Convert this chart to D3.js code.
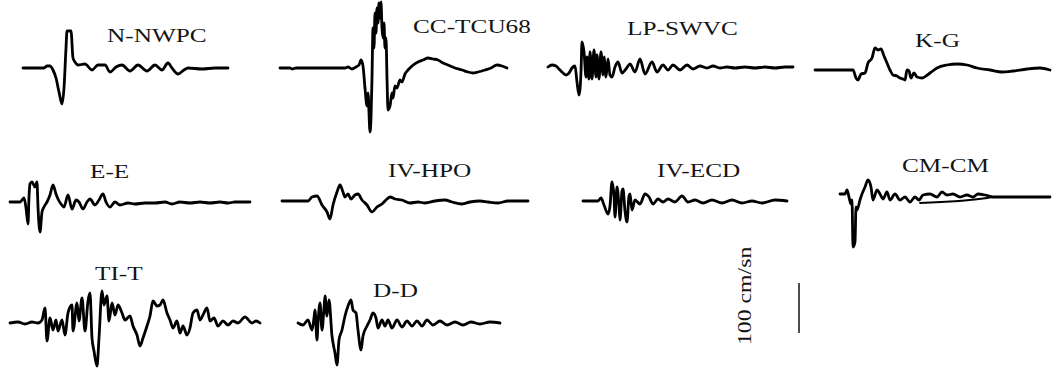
<!DOCTYPE html>
<html>
<head>
<meta charset="utf-8">
<script src="https://cdn.jsdelivr.net/npm/d3@7"></script>
<style>
  html, body { margin: 0; padding: 0; background: #fff; }
  svg { display: block; }
</style>
</head>
<body>
<script>
// Station names, in drawing order
const stations = ["N-NWPC", "CC-TCU68", "LP-SWVC", "K-G", "E-E", "IV-HPO", "IV-ECD", "CM-CM", "TI-T", "D-D"];

// Velocity records: [time (s), velocity (cm/s)]
const velNNWPC = [[0,0],[2.1,0],[2.4,4],[2.7,4],[3.0,-4],[3.3,-20],[3.6,-48],[3.9,-72],[4.1,-40],[4.3,40],[4.4,74],[4.8,74],[5.0,20],[5.2,12],[5.5,6],[6.2,8],[6.9,-4],[7.5,6],[8.2,6],[8.7,-8],[9.3,2],[9.9,6],[10.7,-6],[11.5,6],[12.4,-6],[13.2,6],[13.9,-4],[14.5,10],[14.9,0],[15.5,-12],[16.1,-4],[16.5,0],[17.9,-2],[19.2,0],[20.5,0]];
const velCCTCU68 = [[0,0],[1.0,0],[1.2,-2],[1.6,0],[6.5,0],[6.8,2],[7.2,-2],[7.6,2],[7.9,6],[8.1,16],[8.3,4],[8.5,-40],[8.7,-76],[8.8,-50],[9.0,-128],[9.1,-100],[9.2,-20],[9.3,80],[9.4,40],[9.5,110],[9.6,70],[9.7,120],[9.8,90],[9.9,130],[10.0,100],[10.1,132],[10.2,80],[10.3,60],[10.4,90],[10.5,40],[10.6,60],[10.7,-20],[10.8,-84],[11.0,-76],[11.2,-50],[11.3,-60],[11.5,-36],[11.7,-40],[12.0,-24],[12.2,-28],[12.5,-12],[12.8,-4],[13.2,4],[13.8,12],[14.3,16],[14.8,20],[15.3,18],[15.8,16],[16.3,10],[16.8,6],[17.5,0],[18.2,-4],[18.8,-8],[19.3,-10],[19.8,-8],[20.5,-4],[21.1,0],[21.7,6],[22.2,4],[22.7,0]];
const velLPSWVC = [[0,0],[0.4,4],[0.8,2],[1.1,-4],[1.4,-10],[1.8,-16],[2.1,-12],[2.4,-2],[2.7,2],[2.9,-30],[3.1,-56],[3.3,-10],[3.4,50],[3.6,30],[3.8,-20],[3.9,20],[4.1,-24],[4.2,30],[4.4,-24],[4.6,34],[4.8,-20],[4.9,24],[5.1,-24],[5.3,30],[5.5,-16],[5.6,20],[5.8,-20],[6.0,16],[6.2,-16],[6.4,-20],[6.7,0],[7.0,10],[7.4,-12],[7.8,-4],[8.2,6],[8.7,-10],[9.2,16],[9.7,-14],[10.4,10],[10.9,-10],[11.5,4],[12.0,-6],[12.5,4],[13.2,-6],[13.9,4],[14.5,-4],[15.2,2],[15.9,-2],[16.5,2],[17.2,-2],[17.9,0],[18.7,-2],[19.7,0],[20.7,-2],[21.7,0],[22.7,-2],[23.7,0],[24.5,0]];
const velKG = [[0,0],[1.5,0],[3.0,0],[3.8,0],[4.1,-16],[4.3,-20],[4.6,-8],[5.0,-6],[5.3,14],[5.7,24],[6.0,44],[6.3,40],[6.6,42],[6.9,28],[7.2,14],[7.5,0],[7.8,-10],[8.2,-12],[8.5,-16],[8.8,-18],[9.0,-20],[9.2,0],[9.4,-2],[9.6,-16],[9.9,-6],[10.2,-14],[10.7,-16],[11.1,-12],[11.5,-6],[12.2,4],[13.2,10],[14.2,12],[15.2,10],[16.2,4],[17.5,0],[18.7,-4],[19.8,-2],[21.2,2],[22.5,4],[23.5,0]];
const velEE = [[0,0],[1.0,0],[1.4,8],[1.6,-12],[1.8,-44],[1.9,10],[2.0,36],[2.2,40],[2.5,30],[2.7,40],[2.8,-10],[3.0,-60],[3.2,-20],[3.4,-10],[3.7,0],[4.0,14],[4.3,34],[4.6,16],[4.8,6],[5.1,-4],[5.4,-10],[5.8,14],[6.2,-14],[6.6,4],[6.9,0],[7.3,-14],[7.7,0],[8.0,6],[8.5,-6],[8.9,4],[9.3,16],[9.6,0],[10.0,-10],[10.5,0],[11.0,-6],[11.8,-2],[12.5,-4],[13.5,-2],[14.5,-2],[15.5,0],[16.2,-4],[17.0,0],[18.0,-2],[19.0,0],[20.0,-2],[21.0,0],[21.8,-2],[22.5,0],[24.0,0]];
const velIVHPO = [[0,0],[1.8,0],[2.6,0],[3.0,8],[3.5,10],[4.0,-8],[4.5,-22],[4.8,-36],[5.1,-8],[5.5,18],[5.8,32],[6.1,18],[6.3,8],[6.6,14],[6.9,4],[7.3,12],[7.6,14],[8.0,2],[8.5,-8],[9.0,-22],[9.5,-12],[10.0,-6],[10.5,4],[10.8,8],[11.3,4],[12.0,2],[12.8,-4],[13.6,-2],[14.3,-4],[15.3,0],[16.3,2],[17.0,-2],[18.0,-6],[18.8,-2],[19.8,0],[20.6,-2],[21.6,-4],[22.6,0],[24.6,0]];
const velIVECD = [[0,0],[1.5,0],[1.8,6],[2.1,-8],[2.5,-26],[2.7,-10],[2.9,38],[3.1,10],[3.2,-32],[3.4,28],[3.6,-10],[3.7,-38],[3.9,20],[4.0,24],[4.2,-20],[4.4,-42],[4.6,10],[4.7,14],[4.9,-18],[5.2,2],[5.7,-6],[6.2,14],[6.6,8],[7.0,-6],[7.5,4],[8.0,-2],[8.5,4],[9.2,-2],[9.9,10],[10.5,-2],[11.2,2],[12.0,-4],[12.9,2],[13.9,-4],[14.9,2],[15.9,-4],[16.9,0],[17.9,-4],[19.2,2],[20.4,0]];
const velCMCM = [[0,6],[0.5,6],[0.7,14],[0.9,0],[1.1,-14],[1.2,-6],[1.3,-100],[1.5,-90],[1.6,-20],[1.7,-26],[2.0,-6],[2.2,6],[2.5,20],[2.8,34],[3.1,20],[3.3,-6],[3.7,14],[4.0,6],[4.3,-4],[4.7,10],[5.0,-6],[5.5,6],[6.0,-6],[6.5,0],[7.0,-10],[7.5,0],[7.9,-6],[8.3,4],[9.0,6],[9.7,0],[10.2,10],[10.7,4],[11.3,6],[12.0,0],[12.7,4],[13.3,0],[13.8,6],[14.5,4],[15.3,0],[21.0,0]];
// baseline drift trace drawn under the CM-CM coda
const driftCMCM = [[8.0,-12],[14.7,-2],[15.3,0]];
const velTIT = [[0,0],[0.8,2],[1.5,-2],[2.2,2],[2.8,0],[3.2,6],[3.5,30],[3.7,-36],[4.0,10],[4.3,-14],[4.6,6],[4.8,-16],[5.2,6],[5.5,-24],[5.8,20],[6.2,36],[6.3,-16],[6.7,40],[6.9,4],[7.2,50],[7.5,-16],[7.8,44],[8.0,60],[8.2,-30],[8.4,-56],[8.7,-86],[8.9,-30],[9.2,64],[9.4,36],[9.7,54],[9.9,4],[10.2,40],[10.5,16],[10.8,36],[11.2,20],[11.5,6],[12.0,14],[12.3,-6],[12.7,-24],[13.0,-46],[13.3,-30],[13.7,-6],[14.0,14],[14.3,44],[14.7,34],[15.0,36],[15.3,46],[15.7,20],[16.0,6],[16.3,-10],[16.7,4],[17.0,-20],[17.3,-6],[17.7,-24],[18.0,-10],[18.3,20],[18.7,26],[19.0,6],[19.3,16],[19.7,30],[20.0,4],[20.4,10],[20.8,-6],[21.3,4],[21.8,-4],[22.3,4],[22.8,0],[23.5,12],[24.2,0],[24.6,4],[25.0,0]];
const velDD = [[0,0],[0.5,-4],[1.0,6],[1.4,-14],[1.6,10],[1.7,26],[1.9,-34],[2.0,0],[2.2,40],[2.4,-14],[2.6,30],[2.7,54],[2.9,14],[3.1,46],[3.4,-26],[3.7,-60],[3.9,-84],[4.1,-34],[4.4,-14],[4.7,14],[5.0,34],[5.3,46],[5.5,26],[5.8,20],[6.0,-14],[6.3,-54],[6.5,-26],[6.9,-6],[7.2,6],[7.5,20],[7.8,10],[8.0,-10],[8.4,6],[8.7,-6],[9.0,6],[9.4,-10],[9.9,6],[10.4,-8],[10.9,4],[11.4,-6],[11.9,4],[12.4,-6],[12.9,6],[13.5,-4],[14.2,4],[14.9,-4],[15.7,2],[16.5,-4],[17.3,2],[18.2,-2],[19.2,2],[20.2,0]];

const records = [velNNWPC, velCCTCU68, velLPSWVC, velKG, velEE, velIVHPO, velIVECD, velCMCM, velTIT, velDD];

// Scale bar value (cm/s) and its caption
const scaleValue = 100;
const scaleLabel = "100 cm/sn";

// Page layout: record origin (ox, baseline) and label anchor (lx, ly)
const layout = [
  { ox: 23,  base: 68,  lx: 107, ly: 42 },
  { ox: 280, base: 68,  lx: 413, ly: 33 },
  { ox: 548, base: 67,  lx: 627, ly: 35 },
  { ox: 815, base: 70,  lx: 915, ly: 47 },
  { ox: 10,  base: 202, lx: 90,  ly: 178 },
  { ox: 282, base: 201, lx: 388, ly: 177 },
  { ox: 583, base: 201, lx: 657, ly: 177 },
  { ox: 840, base: 197, lx: 902, ly: 172 },
  { ox: 10,  base: 323, lx: 95,  ly: 280 },
  { ox: 298, base: 323, lx: 373, ly: 297 }
];

const W = 1056, H = 372;
const PX_PER_S = 10;      // horizontal time scale
const PX_PER_100 = 50;    // vertical: 100 cm/s -> 50 px
const STRETCH = 1.33;     // labels are set horizontally widened

const svg = d3.select("body").append("svg")
  .attr("width", W).attr("height", H)
  .attr("viewBox", `0 0 ${W} ${H}`);

const traceG = svg.append("g")
  .attr("fill", "none")
  .attr("stroke", "#000")
  .attr("stroke-width", 2.8)
  .attr("stroke-linejoin", "round")
  .attr("stroke-linecap", "round");

const labelG = svg.append("g")
  .attr("font-family", "'Liberation Serif', 'Times New Roman', serif")
  .attr("font-size", 19)
  .attr("fill", "#141414");

function scalesFor(p, rec) {
  const T = d3.max(rec, d => d[0]);
  const x = d3.scaleLinear().domain([0, T]).range([p.ox, p.ox + T * PX_PER_S]);
  const y = d3.scaleLinear().domain([-100, 100]).range([p.base + PX_PER_100, p.base - PX_PER_100]);
  return { x, y };
}

records.forEach((rec, i) => {
  const p = layout[i];
  const { x, y } = scalesFor(p, rec);
  const line = d3.line().x(d => x(d[0])).y(d => y(d[1])).curve(d3.curveMonotoneX);
  traceG.append("path").attr("d", line(rec));

  if (stations[i] === "CM-CM") {
    traceG.append("path")
      .attr("stroke-width", 1.8)
      .attr("d", line(driftCMCM));
  }

  labelG.append("text")
    .attr("transform", `translate(${p.lx},${p.ly}) scale(${STRETCH},1)`)
    .text(stations[i]);
});

// Amplitude scale bar
const barY = d3.scaleLinear().domain([0, 100]).range([333, 333 - PX_PER_100]);
svg.append("line")
  .attr("x1", 799).attr("x2", 799)
  .attr("y1", barY(0)).attr("y2", barY(scaleValue))
  .attr("stroke", "#000").attr("stroke-width", 1.4);

svg.append("text")
  .attr("transform", `translate(751,345) rotate(-90) scale(1.25,1)`)
  .attr("font-family", "'Liberation Serif', 'Times New Roman', serif")
  .attr("font-size", 19)
  .attr("fill", "#141414")
  .text(scaleLabel);
</script>
</body>
</html>
